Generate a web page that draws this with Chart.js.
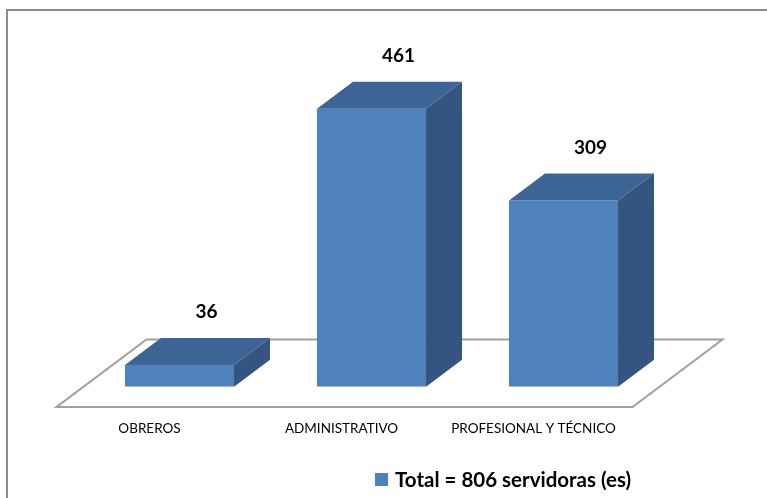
<!DOCTYPE html>
<html>
<head>
<meta charset="utf-8">
<script src="https://cdn.jsdelivr.net/npm/chart.js@4.4.0/dist/chart.umd.min.js"></script>
<style>
  body { margin: 0; background: #fff; }
  canvas { display: block; }
</style>
</head>
<body>
<canvas id="puestosChart" width="767" height="498"></canvas>
<script>
// Data
const categories = ['OBREROS', 'ADMINISTRATIVO', 'PROFESIONAL Y TÉCNICO'];
const servidores = [36, 461, 309];
const seriesLabel = 'Total = 806 servidoras (es)';

const frontColor = '#4f81bd';
const topColor = '#3c6595';
const sideColor = '#33557f';
const depth = { x: 36, y: -27 }; // 3D offset of each bar

// fake 3D look: floor, top/side faces, value labels, legend
const bars3d = {
  id: 'bars3d',
  beforeDraw(chart) {
    const ctx = chart.ctx;
    ctx.save();
    ctx.strokeStyle = '#8c8c8c';
    ctx.lineWidth = 2;
    ctx.beginPath();
    ctx.moveTo(7, chart.height);
    ctx.lineTo(7, 10);
    ctx.lineTo(chart.width, 10);
    ctx.stroke();
    ctx.restore();
  },
  beforeDatasetsDraw(chart) {
    const ctx = chart.ctx;
    const area = chart.chartArea;
    const base = chart.scales.y.getPixelForValue(0);
    const f = { x: -0.75 * depth.x, y: -0.75 * depth.y };
    const b = { x: 1.75 * depth.x, y: 1.75 * depth.y };
    ctx.save();
    ctx.fillStyle = '#fff';
    ctx.strokeStyle = '#a0a0a0';
    ctx.lineWidth = 2;
    ctx.beginPath();
    ctx.moveTo(area.left + f.x, base + f.y);
    ctx.lineTo(area.right + f.x, base + f.y);
    ctx.lineTo(area.right + b.x, base + b.y);
    ctx.lineTo(area.left + b.x, base + b.y);
    ctx.closePath();
    ctx.fill();
    ctx.stroke();
    ctx.restore();
  },
  afterDatasetsDraw(chart) {
    const ctx = chart.ctx;
    const meta = chart.getDatasetMeta(0);
    ctx.save();
    meta.data.forEach((bar, i) => {
      const left = bar.x - bar.width / 2;
      const right = bar.x + bar.width / 2;
      // top face
      ctx.fillStyle = topColor;
      ctx.beginPath();
      ctx.moveTo(left, bar.y);
      ctx.lineTo(left + depth.x, bar.y + depth.y);
      ctx.lineTo(right + depth.x, bar.y + depth.y);
      ctx.lineTo(right, bar.y);
      ctx.closePath();
      ctx.fill();
      // side face
      ctx.fillStyle = sideColor;
      ctx.beginPath();
      ctx.moveTo(right, bar.y);
      ctx.lineTo(right + depth.x, bar.y + depth.y);
      ctx.lineTo(right + depth.x, bar.base + depth.y);
      ctx.lineTo(right, bar.base);
      ctx.closePath();
      ctx.fill();
      // value label
      ctx.fillStyle = '#000';
      ctx.font = 'bold 19px Lato';
      ctx.textAlign = 'center';
      ctx.textBaseline = 'middle';
      ctx.fillText(servidores[i], bar.x + 27, bar.y + depth.y - 26);
    });
    ctx.restore();
  },
  afterDraw(chart) {
    const ctx = chart.ctx;
    ctx.save();
    ctx.fillStyle = frontColor;
    ctx.fillRect(375, 473, 13, 13);
    ctx.fillStyle = '#000';
    ctx.font = 'bold 20.5px Lato';
    ctx.textAlign = 'left';
    ctx.textBaseline = 'middle';
    ctx.fillText(chart.data.datasets[0].label, 395, 480);
    ctx.restore();
  }
};

const ctx = document.getElementById('puestosChart').getContext('2d');
new Chart(ctx, {
  type: 'bar',
  data: {
    labels: categories,
    datasets: [{
      label: seriesLabel,
      data: servidores,
      backgroundColor: frontColor,
      borderWidth: 0,
      categoryPercentage: 1,
      barPercentage: 0.568
    }]
  },
  options: {
    responsive: false,
    animation: false,
    layout: { padding: { left: 83.5, right: 107.5, top: 25, bottom: 27 } },
    plugins: {
      legend: { display: false },
      tooltip: { enabled: false }
    },
    scales: {
      x: {
        grid: { display: false, drawTicks: false },
        border: { display: false },
        ticks: {
          color: '#000',
          font: { family: 'Lato', size: 13.5 },
          padding: 34,
          labelOffset: -30
        }
      },
      y: { display: false, min: 0, max: 600 }
    }
  },
  plugins: [bars3d]
});
</script>
</body>
</html>
